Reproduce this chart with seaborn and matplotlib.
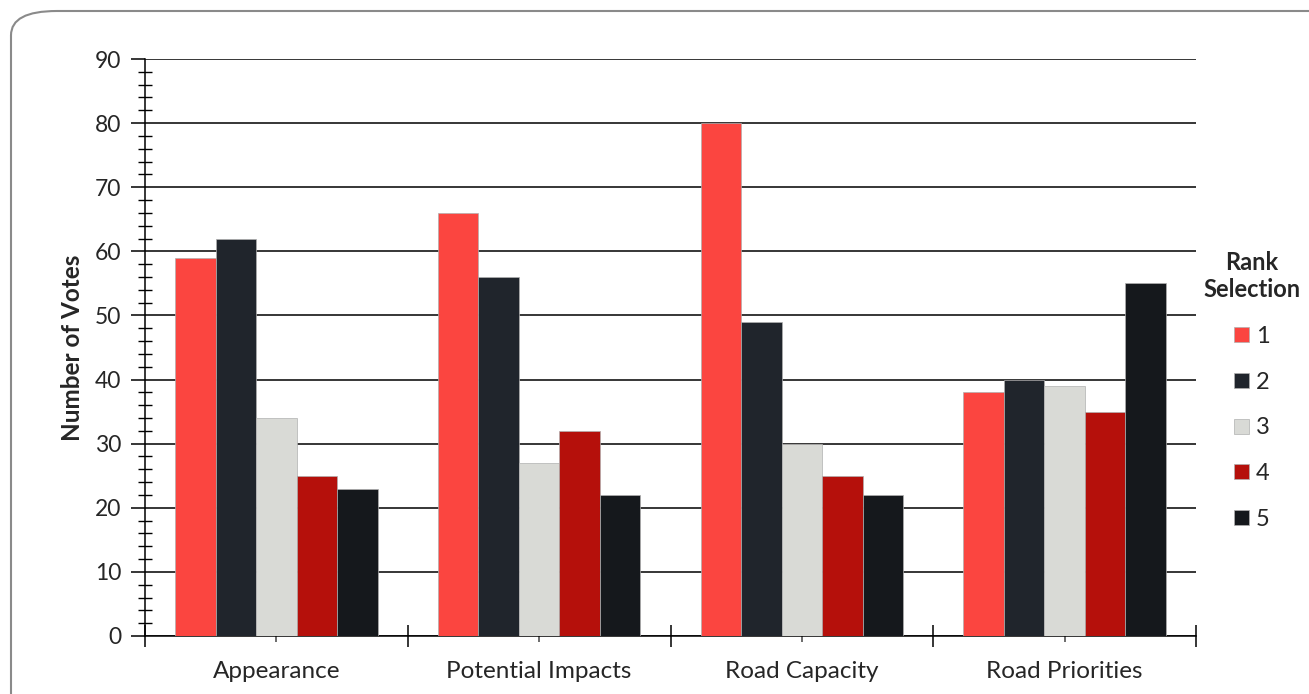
import matplotlib
matplotlib.use("Agg")
import matplotlib.pyplot as plt
import seaborn as sns
import pandas as pd
import numpy as np
from matplotlib.patches import FancyBboxPatch
from matplotlib.ticker import MultipleLocator, FixedLocator

categories = ["Appearance", "Potential Impacts", "Road Capacity", "Road Priorities"]
ranks = ["1", "2", "3", "4", "5"]
rank1 = [59, 66, 80, 38]
rank2 = [62, 56, 49, 40]
rank3 = [34, 27, 30, 39]
rank4 = [25, 32, 25, 35]
rank5 = [23, 22, 22, 55]
colors = ["#FB4540", "#20252C", "#D9DAD6", "#B5100B", "#15181C"]

series = [rank1, rank2, rank3, rank4, rank5]
rows = []
for r, vals in zip(ranks, series):
    for c, v in zip(categories, vals):
        rows.append({"Category": c, "Rank": r, "Votes": v})
df = pd.DataFrame(rows)

sns.set_style("white")
plt.rcParams['font.family'] = ['Lato', 'DejaVu Sans']

fig = plt.figure(figsize=(13.09, 6.94), dpi=100)
ax = fig.add_axes([145/1309, 1 - 636/694, (1196-145)/1309, (636-59)/694])

sns.barplot(data=df, x="Category", y="Votes", hue="Rank", hue_order=ranks,
            order=categories, palette=colors, width=0.77, saturation=1,
            edgecolor="#b0b0b0", linewidth=0.5, ax=ax, zorder=3)

ax.set_ylim(0, 90)
ax.set_xlim(-0.5, 3.5)
ax.yaxis.set_major_locator(MultipleLocator(10))
ax.yaxis.set_minor_locator(MultipleLocator(2))
ax.grid(axis="y", which="major", color="black", linewidth=1.1, zorder=0)
ax.set_axisbelow(True)

for s in ["top", "right"]:
    ax.spines[s].set_visible(False)
for s in ["left", "bottom"]:
    ax.spines[s].set_color("black")
    ax.spines[s].set_linewidth(1.1)

ax.tick_params(axis="y", which="major", direction="out", length=10, width=1.1,
               labelsize=16.5, color="black", left=True, pad=7)
ax.tick_params(axis="y", which="minor", direction="inout", length=10, width=1.0,
               color="black", left=True)

ax.set_xticks([0, 1, 2, 3])
ax.set_xticklabels(categories)
ax.xaxis.set_minor_locator(FixedLocator([-0.5, 0.5, 1.5, 2.5, 3.5]))
ax.tick_params(axis="x", which="major", direction="inout", length=8, width=1.1,
               labelsize=17.5, color="#444444", bottom=True, pad=14)
ax.tick_params(axis="x", which="minor", direction="inout", length=16, width=1.1,
               color="black", bottom=True)

ax.set_xlabel("")
ax.set_ylabel("Number of Votes", fontsize=17.5, fontweight="bold", labelpad=8)

handles, labels = ax.get_legend_handles_labels()
ax.get_legend().remove()
leg = fig.legend(handles, labels, title="Rank\nSelection", loc="upper center",
                 bbox_to_anchor=(1252/1309, 1 - 230/694), bbox_transform=fig.transFigure,
                 frameon=False, fontsize=17,
                 handlelength=0.6, handleheight=0.6, handletextpad=0.3,
                 labelspacing=1.05, title_fontproperties={"weight": "bold", "size": 17})
leg.get_title().set_multialignment("center")
leg._legend_box.align = "center"

border = FancyBboxPatch((11/1309, -0.2), 1.2, (1 - 11/694) + 0.2,
                        boxstyle="round,pad=0,rounding_size=0.035",
                        transform=fig.transFigure, fill=False,
                        edgecolor="#8a8a8a", linewidth=1.5, clip_on=False)
fig.patches.append(border)

fig.savefig("out.png", dpi=100)
